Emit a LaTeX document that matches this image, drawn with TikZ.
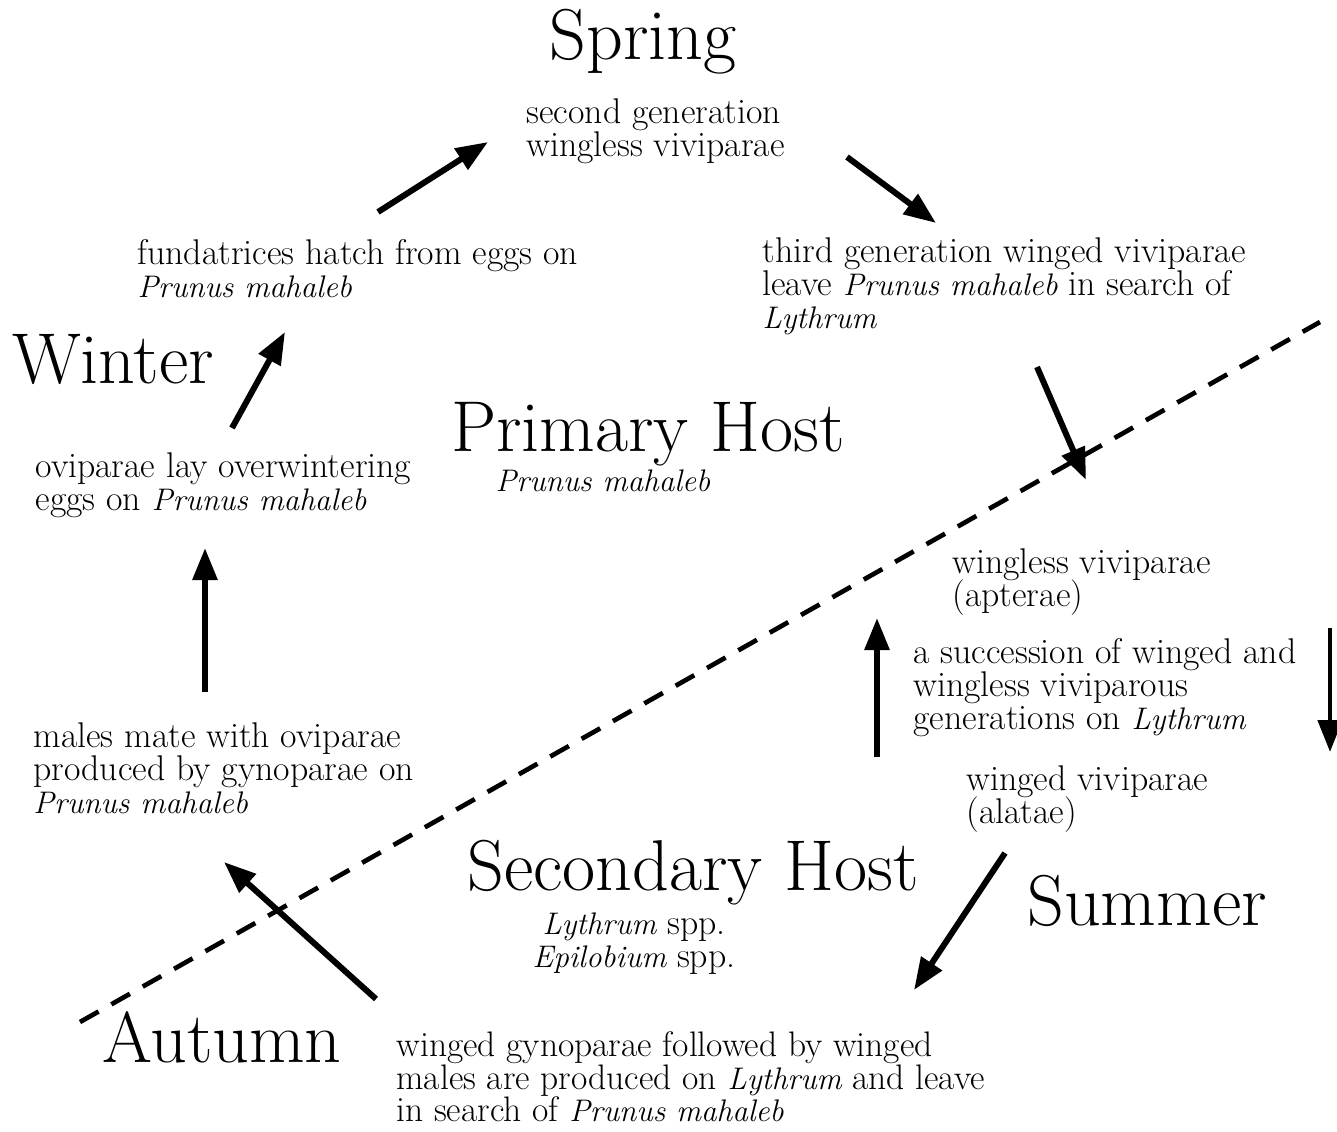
\documentclass[tikz,border=0pt]{standalone}
\usetikzlibrary{arrows.meta}

\newcommand{\bodyfont}{\fontsize{26.8}{24.8}\selectfont\lineskiplimit=-20pt\relax}
\newcommand{\gynofont}{\fontsize{26.6}{24.5}\selectfont\lineskiplimit=-20pt\relax}
\newcommand{\spname}[1]{{\itshape\fontsize{23.4}{24.8}\selectfont #1}}

\tikzset{every picture/.style={line width=0.75pt}}
\tikzset{
  txt/.style={inner sep=0pt, anchor=north west, align=left, font=\bodyfont},
  season/.style={inner sep=0pt, anchor=base, font=\fontsize{54}{60}\selectfont},
  cyc/.style={line width=4.5pt, -{Triangle[length=24pt,width=18pt]}},
}

\begin{document}
\begin{tikzpicture}[x=0.75pt,y=0.75pt,yscale=-1,xscale=1]
\path[use as bounding box] (0,0) rectangle (1337,1131);

%Seasons and hosts
\node [season] (spring) at (643,60) {Spring};
\node [season] (winter) at (113,383) {Winter};
\node [season] (summer) at (1147,925) {Summer};
\node [season] (autumn) at (222,1062) {Autumn};
\node [season] (primary) at (648,451) {Primary Host};
\node [season] (secondary) at (693,890) {Secondary Host};
\node [txt, anchor=north] (primhost) at (603,469) {\spname{Prunus mahaleb}};
\node [txt, anchor=north, align=center] (sechost) at (634,912) {\spname{Lythrum} spp.\\\spname{Epilobium} spp.};

%Stages of the cycle
\node [txt] (gen2) at (526,98) {second generation\\wingless viviparae};
\node [txt] (fund) at (137,239) {fundatrices hatch from eggs on\\\spname{Prunus mahaleb}};
\node [txt] (gen3) at (762,237) {third generation winged viviparae\\leave \spname{Prunus mahaleb} in search of\\\spname{Lythrum}};
\node [txt] (ovip) at (35,452) {oviparae lay overwintering\\eggs on \spname{Prunus mahaleb}};
\node [txt] (apter) at (952,548) {wingless viviparae\\(apterae)};
\node [txt] (succ) at (913,638) {a succession of winged and\\wingless viviparous\\generations on \spname{Lythrum}};
\node [txt] (alat) at (966,765) {winged viviparae\\(alatae)};
\node [txt] (males) at (33,722) {males mate with oviparae\\produced by gynoparae on\\\spname{Prunus mahaleb}};
\node [txt, font=\gynofont] (gyno) at (396,1031) {winged gynoparae followed by winged\\males are produced on \spname{Lythrum} and leave\\in search of \spname{Prunus mahaleb}};

%Arrow ends
\coordinate (a1s) at (378,212); \coordinate (a1e) at (488,142);
\coordinate (a2s) at (847,157); \coordinate (a2e) at (936,223);
\coordinate (a3s) at (1037,367); \coordinate (a3e) at (1086,480);
\coordinate (a4s) at (877,757); \coordinate (a4e) at (877,618);
\coordinate (a5s) at (1330,628); \coordinate (a5e) at (1330,752);
\coordinate (a6s) at (1005,853); \coordinate (a6e) at (914,990);
\coordinate (a7s) at (376,999); \coordinate (a7e) at (224,862);
\coordinate (a8s) at (205,692); \coordinate (a8e) at (205,548);
\coordinate (a9s) at (232,428); \coordinate (a9e) at (285,332);

\draw [cyc] (a1s) -- (a1e);
\draw [cyc] (a2s) -- (a2e);
\draw [cyc] (a3s) -- (a3e);
\draw [cyc] (a4s) -- (a4e);
\draw [cyc, line width=3.5pt] (a5s) -- (a5e);
\draw [cyc] (a6s) -- (a6e);
\draw [cyc] (a7s) -- (a7e);
\draw [cyc] (a8s) -- (a8e);
\draw [cyc] (a9s) -- (a9e);

%Host boundary
\coordinate (bl) at (80,1022); \coordinate (br) at (1320,322);
\draw [line width=3.5pt, dash pattern=on 16pt off 11pt] (bl) -- (br);

\end{tikzpicture}
\end{document}
